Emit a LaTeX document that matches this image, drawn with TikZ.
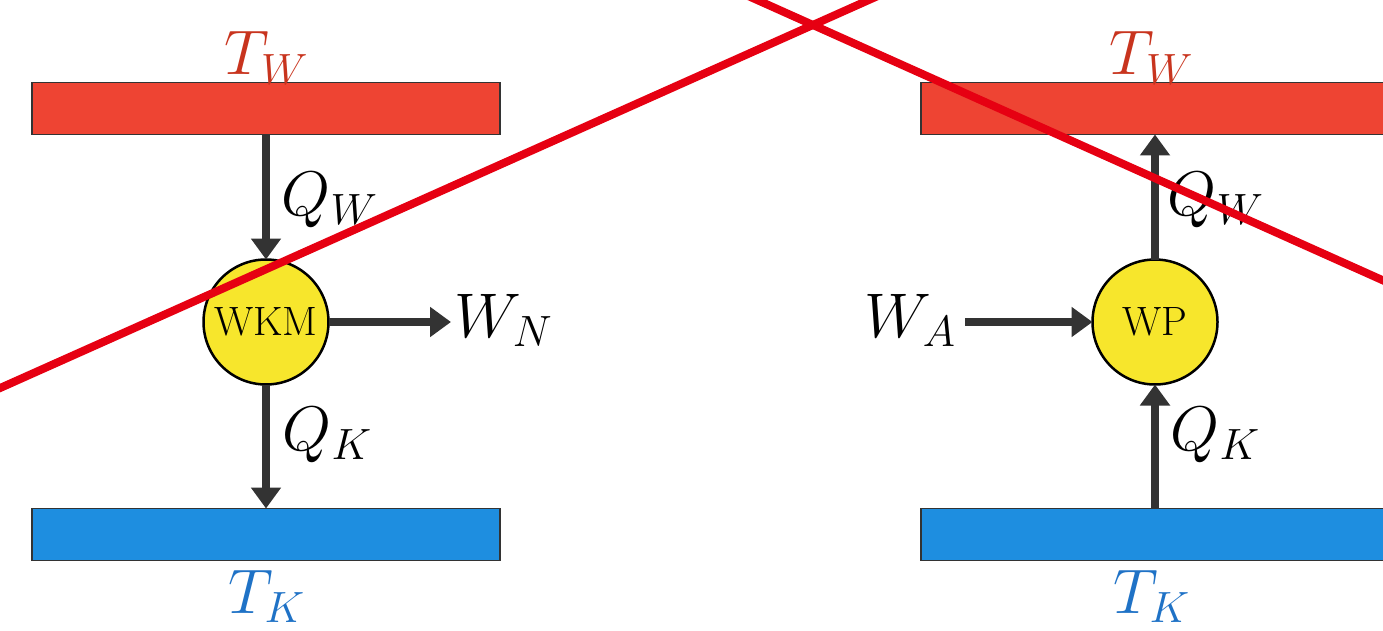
\documentclass[tikz,border=0pt]{standalone}
\usetikzlibrary{arrows.meta}
\definecolor{hotbar}{HTML}{EE4433}
\definecolor{hottext}{HTML}{C8341E}
\definecolor{coldbar}{HTML}{1E8EE0}
\definecolor{coldtext}{HTML}{1F72C6}
\definecolor{engine}{HTML}{F7E62C}
\definecolor{arrowgray}{HTML}{333333}
\definecolor{crossred}{HTML}{E60012}
\begin{document}
\begin{tikzpicture}[x=1pt,y=-1pt,
  reservoir/.style={rectangle, draw=black!80, line width=1.8pt, minimum width=468pt, minimum height=52pt, inner sep=0pt, outer sep=0pt},
  hot/.style={reservoir, fill=hotbar},
  cold/.style={reservoir, fill=coldbar},
  machine/.style={circle, draw=black, line width=2.5pt, fill=engine, minimum size=125pt, inner sep=0pt, outer sep=0pt, font=\fontsize{41}{44}\selectfont},
  lbl/.style={inner sep=0pt, scale=3.04, font=\fontsize{20.74}{25}\selectfont},
  arr/.style={draw=arrowgray, line width=8.5pt, -{Triangle[length=21pt,width=29pt]}},
  cross/.style={draw=crossred, line width=8pt}
]
\useasboundingbox (0,0) rectangle (1383,631);
% left: heat engine
\node[hot]  (hotL)  at (266,108.5) {};
\node[cold] (coldL) at (266,534.5) {};
\node[machine] (wkm) at (266,322) {WKM};
\node[lbl, anchor=base, text=hottext]  (twL) at (267,75)  {$T_W$};
\node[lbl, anchor=base, text=coldtext] (tkL) at (267,613) {$T_K$};
\coordinate (wnend) at (451,322);
\draw[arr] (hotL) -- (wkm);
\draw[arr] (wkm) -- (coldL);
\draw[arr] (wkm) -- (wnend);
\node[lbl, anchor=base west] (qwL) at (281,215) {$Q_W$};
\node[lbl, anchor=base west] (qkL) at (282,450) {$Q_K$};
\node[lbl, anchor=base west] (wn)  at (454,337) {$W_N$};
% right: heat pump
\node[hot]  (hotR)  at (1155,108.5) {};
\node[cold] (coldR) at (1155,534.5) {};
\node[machine] (wp) at (1155,322) {WP};
\node[lbl, anchor=base, text=hottext]  (twR) at (1152,75)  {$T_W$};
\node[lbl, anchor=base, text=coldtext] (tkR) at (1152,613) {$T_K$};
\coordinate (wastart) at (965,322);
\draw[arr] (wp) -- (hotR);
\draw[arr] (coldR) -- (wp);
\draw[arr] (wastart) -- (wp);
\node[lbl, anchor=base west] (qwR) at (1167,215) {$Q_W$};
\node[lbl, anchor=base west] (qkR) at (1170,450) {$Q_K$};
\node[lbl, anchor=base east] (wa)  at (957,337) {$W_A$};
% crossing lines
\begin{scope}
\clip (0,0) rectangle (1383,631);
\coordinate (c1a) at (-20,397);
\coordinate (c1b) at (880,-5);
\coordinate (c2a) at (746,-5);
\coordinate (c2b) at (1400,288);
\draw[cross] (c1a) -- (c1b);
\draw[cross] (c2a) -- (c2b);
\end{scope}
\end{tikzpicture}
\end{document}
